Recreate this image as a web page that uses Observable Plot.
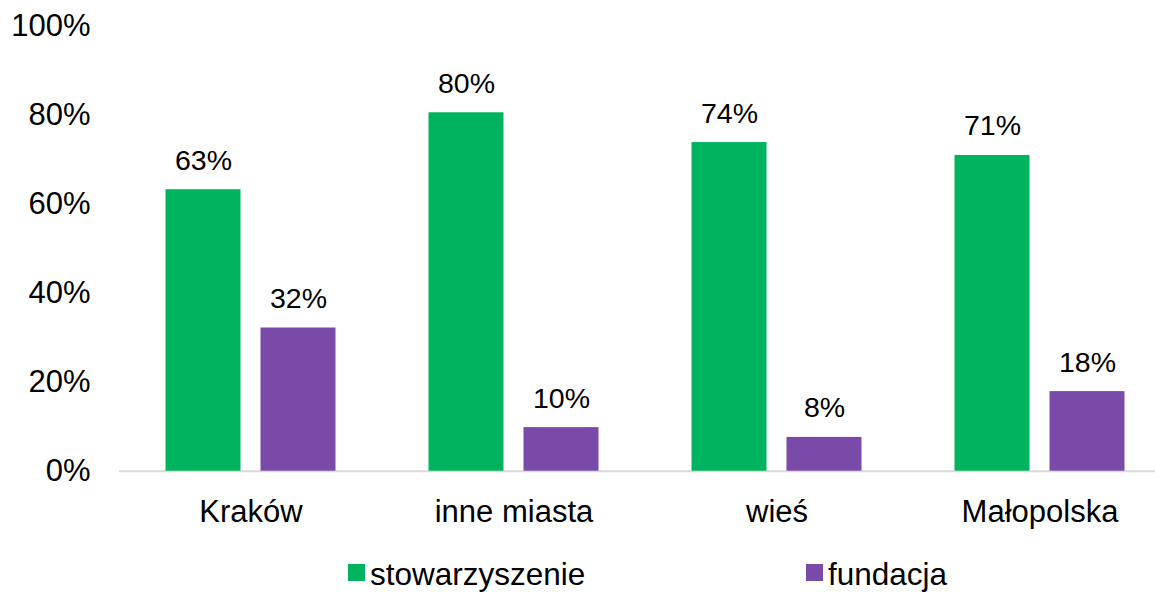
<!DOCTYPE html>
<html><head><meta charset="utf-8">
<script src="https://cdn.jsdelivr.net/npm/d3@7"></script>
<script src="https://cdn.jsdelivr.net/npm/@observablehq/plot@0.6"></script>
<style>
body{margin:0;background:#fff;font-family:"Liberation Sans",Arial,sans-serif}
#chart{position:relative;width:1155px;height:592px;overflow:hidden}
.lg{position:absolute;font-size:31.5px;line-height:31.5px;color:#000;white-space:nowrap}
.sw{position:absolute;width:17px;height:17px}
</style>
</head><body><div id="chart"></div>
<script>
const categories = ["Kraków", "inne miasta", "wieś", "Małopolska"];
const series = ["stowarzyszenie", "fundacja"];
const stowarzyszenie = [63.3, 80.6, 73.9, 71.0];
const fundacja = [32.2, 9.8, 7.6, 17.9];
const stowLabels = ["63%", "80%", "74%", "71%"];
const fundLabels = ["32%", "10%", "8%", "18%"];
const yTicks = [0, 20, 40, 60, 80, 100];
const colors = ["#00b45f", "#7a4aa9"];

const data = categories.flatMap((c, i) => [
  {category: c, series: series[0], value: stowarzyszenie[i], label: stowLabels[i]},
  {category: c, series: series[1], value: fundacja[i], label: fundLabels[i]}
]);

const chart = Plot.plot({
  width: 1155, height: 550,
  marginLeft: 118.5, marginRight: -16, marginTop: 26, marginBottom: 79.3,
  style: {fontFamily: '"Liberation Sans", Arial, sans-serif', fontSize: "31px", color: "#000", background: "transparent", overflow: "visible"},
  fx: {domain: categories, padding: 0, label: null, axis: "bottom", tickSize: 0, tickPadding: 29},
  x: {domain: series, paddingInner: 0.2083, paddingOuter: 0.474, axis: null},
  y: {domain: [0, 100], ticks: yTicks, tickSize: 0, tickPadding: 29, tickFormat: d => d + "%", label: null},
  color: {domain: series, range: colors},
  marks: [
    Plot.ruleY([0], {stroke: "#d9d9d9", strokeWidth: 2}),
    Plot.barY(data, {fx: "category", x: "series", y: "value", fill: "series"}),
    Plot.text(data, {fx: "category", x: "series", y: "value", text: "label", lineAnchor: "bottom", dy: -20, fontSize: 28.5, fill: "#000"})
  ]
});
const root = document.getElementById("chart");
chart.style.position = "absolute";
chart.style.left = "0px";
chart.style.top = "0px";
root.appendChild(chart);

const legendPos = [{sq: 348, tx: 370}, {sq: 806, tx: 828}];
series.forEach((s, i) => {
  const sw = document.createElement("div");
  sw.className = "sw";
  sw.style.left = legendPos[i].sq + "px";
  sw.style.top = "564px";
  sw.style.background = colors[i];
  root.appendChild(sw);
  const t = document.createElement("div");
  t.className = "lg";
  t.style.left = legendPos[i].tx + "px";
  t.style.top = "559px";
  t.textContent = s;
  root.appendChild(t);
});
</script>
</body></html>
